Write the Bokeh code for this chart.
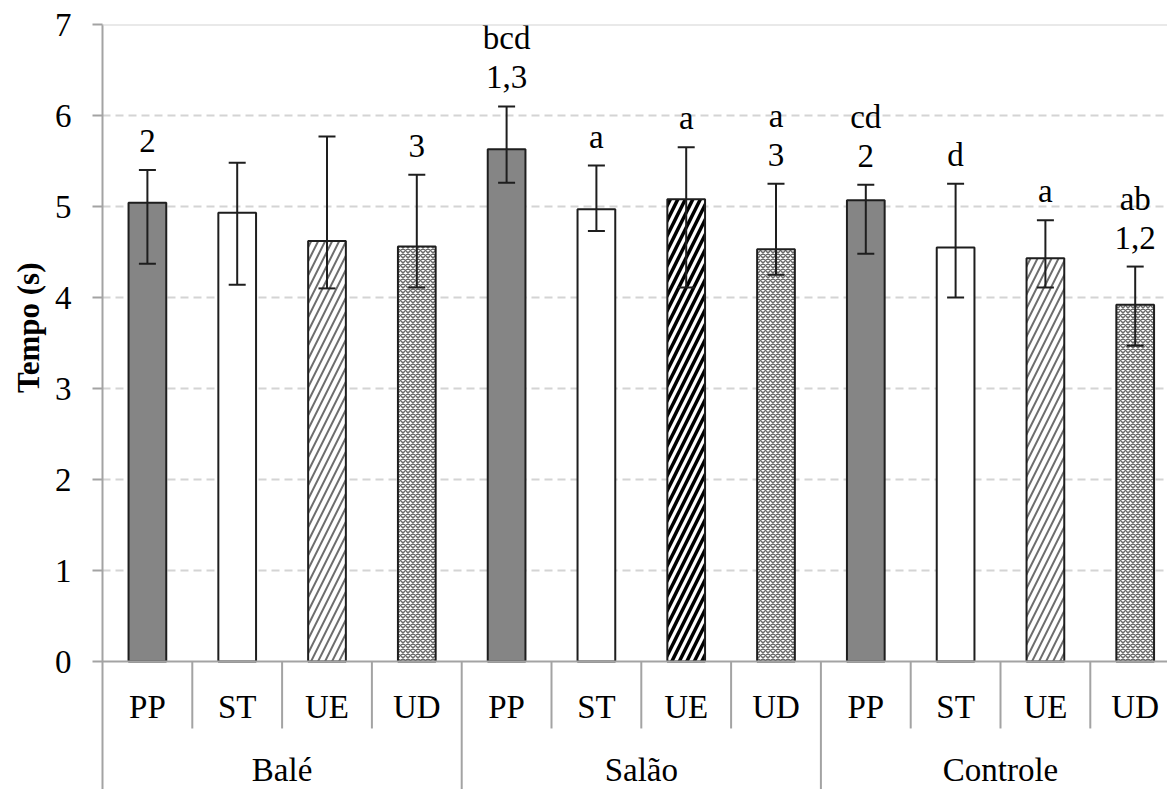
from bokeh.plotting import figure
from bokeh.models import ColumnDataSource, Range1d, FixedTicker, Span, Whisker, TeeHead, Title
from bokeh.embed import file_html
from bokeh.resources import INLINE
from bokeh.core.properties import value

# ---------------- data ----------------
groups = ["Balé", "Salão", "Controle"]
conditions = ["PP", "ST", "UE", "UD"]
means = [5.04, 4.93, 4.62, 4.56, 5.63, 4.97, 5.08, 4.53, 5.07, 4.55, 4.43, 3.92]
upper = [5.40, 5.48, 5.77, 5.35, 6.10, 5.45, 5.65, 5.25, 5.24, 5.25, 4.85, 4.34]
lower = [4.37, 4.14, 4.10, 4.11, 5.26, 4.73, 4.11, 4.25, 4.48, 4.00, 4.11, 3.47]
letters = ["", "", "", "", "bcd", "a", "a", "a", "cd", "d", "a", "ab"]
numbers = ["2", "", "", "3", "1,3", "", "", "3", "2", "", "", "1,2"]
y_ticks = [0, 1, 2, 3, 4, 5, 6, 7]
y_title = "Tempo (s)"

# ---------------- layout helpers ----------------
FONT = "Liberation Serif"
FS = "33px"
AX = "#a3a3a3"
n_c = len(conditions)
n_g = len(groups)
cond_of = [c for g in groups for c in conditions]
group_of = [g for g in groups for c in conditions]
xs = [gi * n_c + ci + 0.5 for gi in range(n_g) for ci in range(n_c)]

W, H = 1167, 789
LEFT, TOP = 102, 24
PX_PER_Y = 91.0
PX_PER_X = 89.8
Y0 = -((H - TOP) / PX_PER_Y - 7)
X1 = (W - LEFT) / PX_PER_X

p = figure(width=W, height=H, output_backend="svg", toolbar_location=None,
           x_range=Range1d(0, X1), y_range=Range1d(Y0, 7),
           x_axis_type=None, min_border_left=LEFT, min_border_top=TOP,
           min_border_right=0, min_border_bottom=0)
p.outline_line_color = None
p.background_fill_color = "white"
p.border_fill_color = "white"

# y axis
yax = p.yaxis[0]
yax.ticker = FixedTicker(ticks=y_ticks)
yax.axis_line_color = AX
yax.axis_line_width = 2
yax.major_tick_line_color = AX
yax.major_tick_line_width = 2
yax.major_tick_in = 0
yax.major_tick_out = 10
yax.minor_tick_line_color = None
yax.major_label_text_font = FONT
yax.major_label_text_font_size = FS
yax.major_label_text_color = "black"
yax.major_label_standoff = 21

# y title, placed beside the 0..7 span
p.add_layout(Title(text=y_title, align="right", offset=238, standoff=12,
                   text_font=FONT, text_font_size="31px", text_font_style="bold",
                   text_color="black"), "left")

# grid
p.xgrid.visible = False
p.ygrid.ticker = FixedTicker(ticks=y_ticks[1:-1])
p.ygrid.grid_line_color = "#d4d4d4"
p.ygrid.grid_line_dash = "8 5"
p.ygrid.grid_line_width = 2
p.add_layout(Span(location=y_ticks[-1], dimension="width", line_color="#d4d4d4", line_width=2))
p.add_layout(Span(location=y_ticks[0], dimension="width", line_color=AX, line_width=2))

# category separators
sep_x = list(range(1, n_c * n_g))
cat_sep = [k for k in sep_x if k % n_c != 0]
grp_sep = [k for k in sep_x if k % n_c == 0]
p.segment(x0=cat_sep, y0=[0] * len(cat_sep), x1=cat_sep, y1=[-0.736] * len(cat_sep),
          line_color=AX, line_width=2)
p.segment(x0=grp_sep, y0=[0] * len(grp_sep), x1=grp_sep, y1=[Y0] * len(grp_sep),
          line_color=AX, line_width=2)

# bars
BW = 0.42
styles = {
    "PP": dict(fill_color="#858585"),
    "ST": dict(fill_color="white"),
    "UE": dict(fill_color="white", hatch_pattern="/", hatch_color="#6e6e6e",
               hatch_weight=2, hatch_scale=14),
    "UD": dict(fill_color="white", hatch_pattern="x", hatch_color="#6a6a6a",
               hatch_weight=1.5, hatch_scale=5),
}
for i in range(len(xs)):
    st = dict(styles[cond_of[i]])
    if cond_of[i] == "UE" and group_of[i] == "Salão":
        st.update(hatch_color="black", hatch_weight=3.5, hatch_scale=15)
    p.vbar(x=[xs[i]], top=[means[i]], bottom=0, width=BW,
           line_color="#1e1e1e", line_width=2, **st)

# error bars
src = ColumnDataSource(dict(x=xs, upper=upper, lower=lower))
p.add_layout(Whisker(base="x", upper="upper", lower="lower", source=src,
                     line_color="#1e1e1e", line_width=2, level="annotation",
                     upper_head=TeeHead(size=17, line_color="#1e1e1e", line_width=2),
                     lower_head=TeeHead(size=17, line_color="#1e1e1e", line_width=2)))

# significance labels
low_x, low_y, low_t, hi_x, hi_y, hi_t = [], [], [], [], [], []
for i in range(len(xs)):
    if numbers[i]:
        low_x.append(xs[i]); low_y.append(upper[i]); low_t.append(numbers[i])
        if letters[i]:
            hi_x.append(xs[i]); hi_y.append(upper[i]); hi_t.append(letters[i])
    elif letters[i]:
        low_x.append(xs[i]); low_y.append(upper[i]); low_t.append(letters[i])
p.text(x=low_x, y=low_y, text=low_t, y_offset=-29, text_align="center",
       text_baseline="alphabetic", text_font=value(FONT), text_font_size=FS,
       text_color="black")
p.text(x=hi_x, y=hi_y, text=hi_t, y_offset=-68, text_align="center",
       text_baseline="alphabetic", text_font=value(FONT), text_font_size=FS,
       text_color="black")

# category and group labels
p.text(x=xs, y=[-0.505] * len(xs), text=cond_of, text_align="center",
       text_baseline="alphabetic", text_font=value(FONT), text_font_size=FS,
       text_color="black")
gx = [gi * n_c + n_c / 2 for gi in range(n_g)]
p.text(x=gx, y=[-1.19] * n_g, text=groups, text_align="center",
       text_baseline="alphabetic", text_font=value(FONT), text_font_size=FS,
       text_color="black")

open("out.html", "w").write(file_html(p, INLINE))
